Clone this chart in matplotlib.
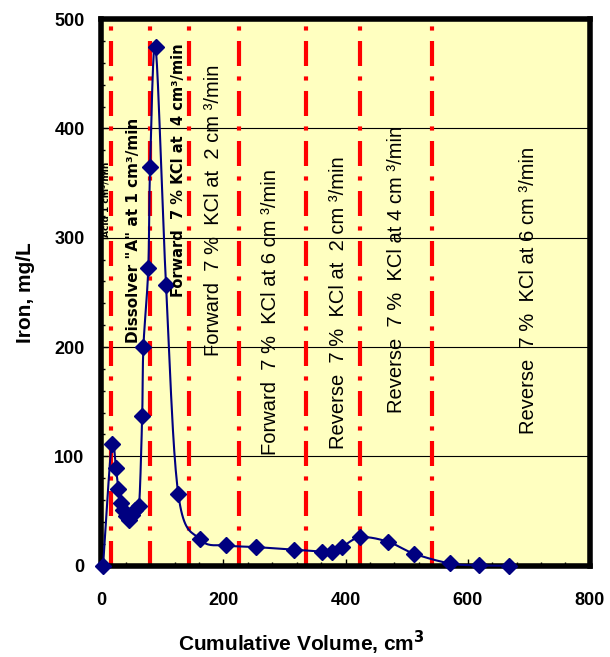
import numpy as np
import matplotlib
matplotlib.use("Agg")
import matplotlib.pyplot as plt

# cumulative volume (cm3) and iron concentration (mg/L)
volume = [3, 17, 24, 28, 33, 36, 41, 45, 50, 56, 62, 67, 69, 77, 80, 89, 106, 126,
          162, 205, 254, 316, 362, 378, 394, 424, 469, 512, 571, 618, 667]
iron = [0, 111, 89, 70, 57, 51, 45, 42, 46, 51, 55, 137, 200, 272, 365, 474, 257, 66,
        24, 18.5, 17, 14.6, 12.8, 12.8, 17, 26, 22, 11, 2, 0.3, 0]

# stage boundaries (cm3)
boundaries = [16, 79, 144, 225, 335, 424, 542]

# stage labels
stage_text = [
    "Acid 1 cm\u00b3/min",
    'Dissolver "A" at 1 cm\u00b3/min',
    "Forward  7 % KCl at  4 cm\u00b3/min",
    "Forward  7 %  KCl at  2 cm \u00b3/min",
    "Forward  7 %  KCl at 6 cm \u00b3/min",
    "Reverse  7 %  KCl at  2 cm \u00b3/min",
    "Reverse  7 %  KCl at 4 cm \u00b3/min",
    "Reverse  7 %  KCl at 6 cm \u00b3/min",
]
stage_x = [8, 52, 127, 184, 277, 389, 483, 700]
stage_y = [335, 307, 362, 325, 232, 241, 271, 252]


def smooth(x, y, n=20):
    # Catmull-Rom style curve through the points (Excel "smoothed line")
    x = np.asarray(x, float)
    y = np.asarray(y, float)
    px = np.concatenate([[x[0]], x, [x[-1]]])
    py = np.concatenate([[y[0]], y, [y[-1]]])
    xs, ys = [], []
    t = np.linspace(0, 1, n)
    for i in range(1, len(px) - 2):
        p0, p1, p2, p3 = (np.array([px[j], py[j]]) for j in range(i - 1, i + 3))
        c1 = p1 + (p2 - p0) / 6
        c2 = p2 - (p3 - p1) / 6
        b = ((1 - t) ** 3)[:, None] * p1 + (3 * (1 - t) ** 2 * t)[:, None] * c1 \
            + (3 * (1 - t) * t ** 2)[:, None] * c2 + (t ** 3)[:, None] * p2
        xs.extend(b[:, 0])
        ys.extend(b[:, 1])
    return xs, ys


def main() -> None:
    fig = plt.figure(figsize=(6.1, 6.57), dpi=100)
    ax = fig.add_axes([0.166, 0.139, 0.801, 0.832])
    ax.set_facecolor("#FFFFC0")

    ax.set_xlim(0, 800)
    ax.set_ylim(0, 500)
    ax.set_xticks(range(0, 801, 200))
    ax.set_yticks(range(0, 501, 100))
    ax.set_xticks(range(0, 801, 40), minor=True)
    ax.set_yticks(range(0, 501, 20), minor=True)
    ax.tick_params(which="both", direction="in", top=False, right=False)
    ax.tick_params(which="major", length=5, width=1)
    ax.tick_params(which="minor", length=3, width=1)
    ax.tick_params(axis="x", pad=19)
    ax.tick_params(axis="y", pad=12)
    for lab in ax.get_xticklabels() + ax.get_yticklabels():
        lab.set_fontweight("bold")
        lab.set_fontsize(13)
        lab.set_family("Liberation Sans")

    ax.yaxis.grid(True, color="black", linewidth=0.8)
    ax.set_axisbelow(True)
    for s in ax.spines.values():
        s.set_linewidth(4)

    for b in boundaries:
        ax.axvline(b, color="red", linewidth=3, linestyle=(0, (6, 2.5, 1, 2.5)), zorder=2)

    sx, sy = smooth(volume, iron)
    ax.plot(sx, sy, color="#000080", linewidth=1.5, zorder=3, clip_on=False)
    ax.plot(volume, iron, linestyle="none", marker="D", markersize=8.5,
            color="#000080", zorder=4, clip_on=False)

    for i, (txt, x, y) in enumerate(zip(stage_text, stage_x, stage_y)):
        if i == 0:
            ax.text(x, y, txt, rotation=90, ha="center", va="center",
                    fontsize=6.5, fontweight="bold", family="DejaVu Sans", zorder=5)
        elif i < 3:
            ax.text(x, y, txt, rotation=90, ha="center", va="center",
                    fontsize=11 if i == 1 else 10.5, fontweight="semibold",
                    family="DejaVu Sans", zorder=5)
        else:
            ax.text(x, y, txt, rotation=90, ha="center", va="center",
                    fontsize=14.5, family="Liberation Sans", zorder=5)

    ax.set_xlabel("Cumulative Volume, cm$^\\mathbf{3}$", fontsize=15, fontweight="bold",
                  family="Liberation Sans")
    ax.xaxis.set_label_coords(0.41, -0.115)
    ax.set_ylabel("Iron, mg/L", fontsize=15, fontweight="bold",
                  family="Liberation Sans", labelpad=14)

    fig.savefig("out.png", dpi=100)


if __name__ == "__main__":
    main()
